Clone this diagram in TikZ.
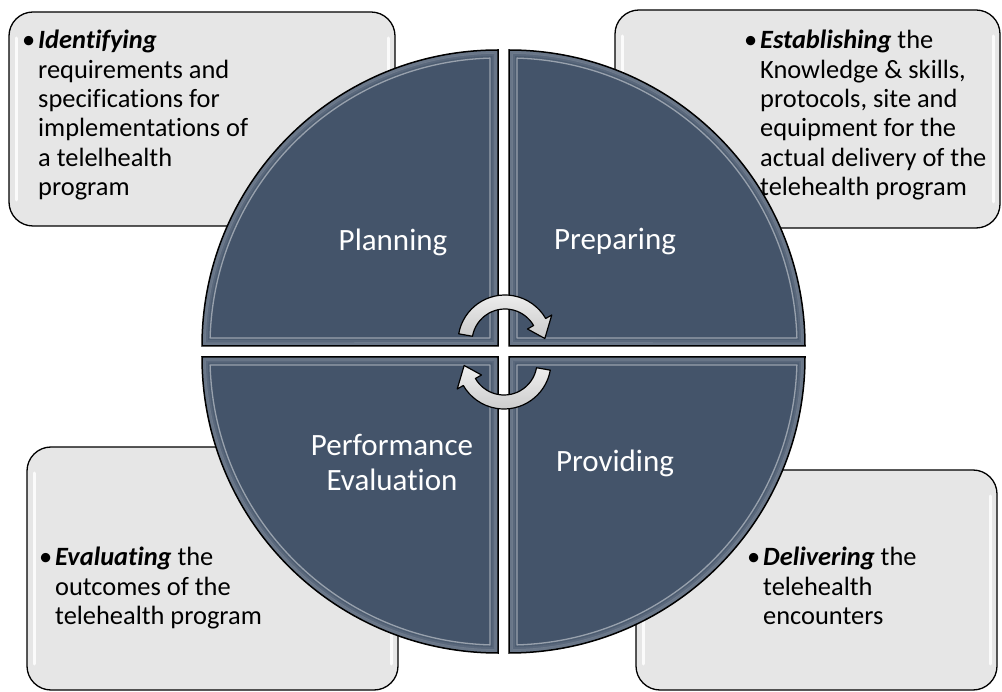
\documentclass[tikz,border=0pt]{standalone}
\usepackage{fontspec}
\setmainfont{Carlito}[Ligatures={NoCommon}]
\definecolor{quadc}{HTML}{44546A}
\definecolor{boxc}{HTML}{E6E6E6}
\begin{document}
\begin{tikzpicture}[x=1pt,y=-1pt,
  cornerbox/.style={draw=black, line width=1.3pt, fill=boxc, rounded corners=24pt},
  boxshine/.style={draw=white, line width=3pt, line cap=round, opacity=0.85},
  boxtext/.style={font=\fontsize{26.4}{29.4}\selectfont, align=left, inner sep=0pt, anchor=north west, text=black},
  quadlabel/.style={font=\fontsize{31}{35}\selectfont, text=white, align=center, inner sep=0pt},
  quadedge/.style={draw=black, line width=1.5pt},
  cyclearrow/.style={draw=black, line width=1.2pt, top color=gray!12, bottom color=gray!42, line join=round},
]
\useasboundingbox (0,0) rectangle (1002,692);

% corner boxes
\foreach \xa/\ya/\xb/\yb in {9/12/395/226, 615/10/1000/228, 27/447/398/690, 636/470/997/690} {
  \path[cornerbox] (\xa,\ya) rectangle (\xb,\yb);
  \draw[boxshine] (\xa+7,\ya+26) -- (\xa+7,\yb-26);
  \draw[boxshine] (\xb-7,\ya+26) -- (\xb-7,\yb-26);
}

% quadrants with soft bevel
\foreach \cx/\cy/\a in {498/346/180, 509/346/270, 509/357/0, 498/357/90} {
  \fill[quadc] (\cx,\cy) -- ++(\a:296) arc[start angle=\a, end angle=\a+90, radius=296] -- cycle;
  \foreach \d/\w/\c/\o in {2/3.5/quadc!55!white/0.45, 4.5/2.5/quadc!70!white/0.4, 6.5/2/quadc!85!white/0.35, 8/1.3/white/0.45} {
    \pgfmathsetmacro\da{asin(\d/(296-\d))}
    \pgfmathsetmacro\rr{296-\d}
    \pgfmathsetmacro\dd{\d*1.41421}
    \pgfmathsetmacro\sa{\a+\da}
    \pgfmathsetmacro\ea{\a+90-\da}
    \pgfmathsetmacro\ma{\a+45}
    \draw[draw=\c, line width=\w pt, opacity=\o, line join=round]
      ([shift={(\cx,\cy)}]\ma:\dd) -- ([shift={(\cx,\cy)}]\sa:\rr)
      arc[start angle=\sa, end angle=\ea, radius=\rr] -- cycle;
  }
  \draw[quadedge] (\cx,\cy) -- ++(\a:296) arc[start angle=\a, end angle=\a+90, radius=296] -- cycle;
}

% box texts
\node[boxtext] (tltext) at (38,30) {\llap{•\hspace{3pt}}\textbf{\textit{Identifying}}\\requirements and\\specifications for\\implementations of\\a telelhealth\\program};
\node[boxtext] (trtext) at (760,30) {\llap{•\hspace{3pt}}\textbf{\textit{Establishing}} the\\Knowledge \& skills,\\protocols, site and\\equipment for the\\actual delivery of the\\telehealth program};
\node[boxtext] (bltext) at (55,547) {\llap{•\hspace{3pt}}\textbf{\textit{Evaluating}} the\\outcomes of the\\telehealth program};
\node[boxtext] (brtext) at (763,547) {\llap{•\hspace{3pt}}\textbf{\textit{Delivering}} the\\telehealth\\encounters};

% quadrant labels
\node[quadlabel] (plan) at (393,242) {Planning};
\node[quadlabel] (prep) at (615,242) {Preparing};
\node[quadlabel] (perf) at (392,462) {Performance\\Evaluation};
\node[quadlabel] (prov) at (615,463) {Providing};

% cycle arrows
\begin{scope}[shift={(505,342)}]
\path[cyclearrow] (190:47) arc[start angle=190, end angle=330, radius=47] -- (330:54) -- (355:40) -- (330:26) -- (330:33) arc[start angle=330, end angle=190, radius=33] -- cycle;
\end{scope}
\begin{scope}[shift={(504,362)}]
\path[cyclearrow] (10:47) arc[start angle=10, end angle=150, radius=47] -- (150:54) -- (175:40) -- (150:26) -- (150:33) arc[start angle=150, end angle=10, radius=33] -- cycle;
\end{scope}
\end{tikzpicture}
\end{document}
